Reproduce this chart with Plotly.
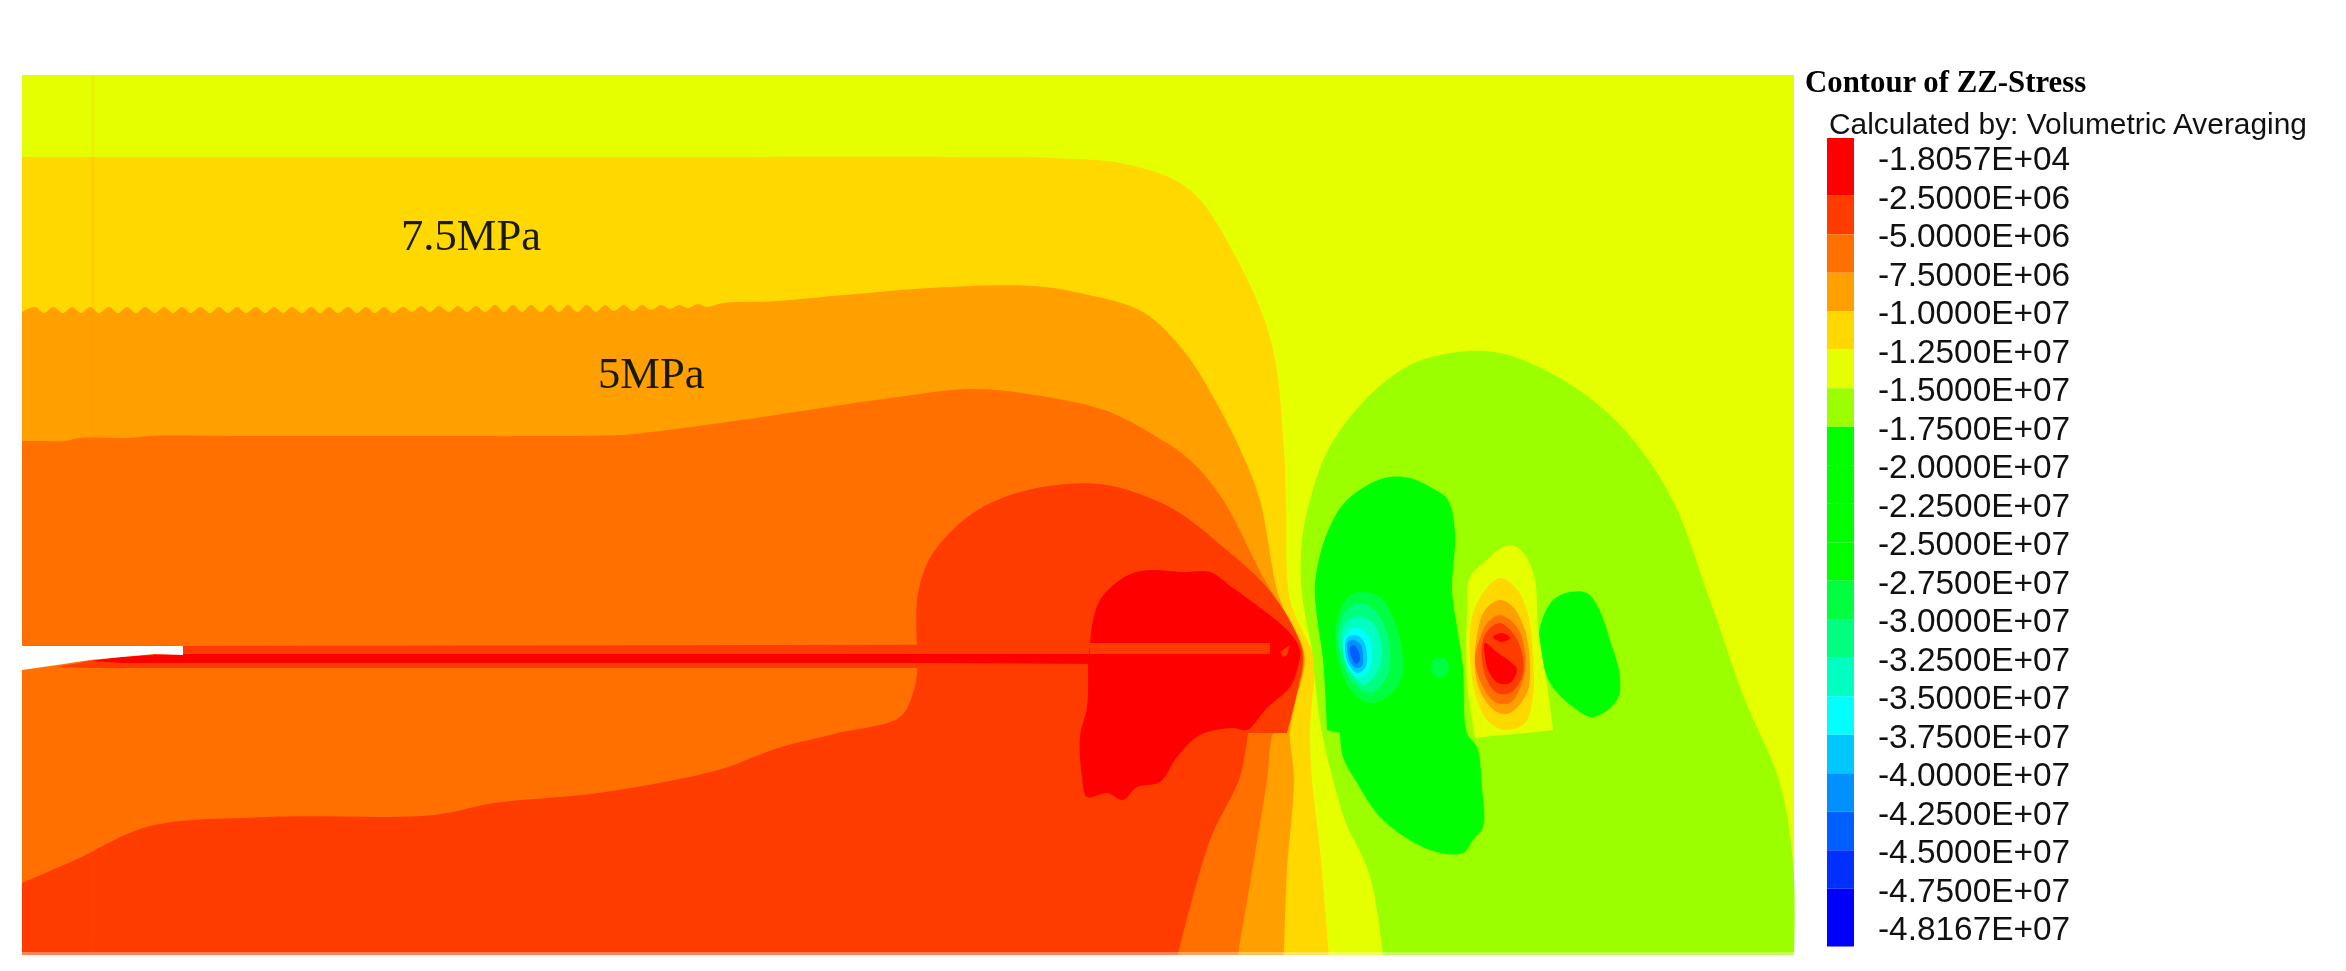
import plotly.graph_objects as go

# ---- colour of each contour band ----
C_RED = "#FF0000"; C_R2 = "#FF3C00"; C_OR = "#FF7000"; C_AM = "#FFA000"; C_GO = "#FFD800"
C_YG = "#E6FF00"; C_LG = "#9CFF00"; C_GR = "#00FF00"; C_G2 = "#00FF40"; C_G3 = "#00FF80"
C_G4 = "#00FFC0"; C_CY = "#00FFFF"; C_B1 = "#00C8FF"; C_B2 = "#0090FF"; C_B3 = "#0060FF"
C_B4 = "#0030FF"; C_B5 = "#0000FF"

legend_labels = ["-1.8057E+04", "-2.5000E+06", "-5.0000E+06", "-7.5000E+06", "-1.0000E+07", "-1.2500E+07",
                 "-1.5000E+07", "-1.7500E+07", "-2.0000E+07", "-2.2500E+07", "-2.5000E+07", "-2.7500E+07",
                 "-3.0000E+07", "-3.2500E+07", "-3.5000E+07", "-3.7500E+07", "-4.0000E+07", "-4.2500E+07",
                 "-4.5000E+07", "-4.7500E+07", "-4.8167E+07"]
legend_colors = [C_RED, C_R2, C_OR, C_AM, C_GO, C_YG, C_LG, C_GR, C_GR, C_GR, C_GR, C_G2, C_G3, C_G4, C_CY,
                 C_B1, C_B2, C_B3, C_B4, C_B5]

title_text = "Contour of ZZ-Stress"
subtitle_text = "Calculated by: Volumetric Averaging"
region_labels = ["7.5MPa", "5MPa"]

# ---- contour regions (boundaries) ----
domain = [(22, 75), (1794, 75), (1794, 955), (22, 955)]

band_gold = [(22, 157), (22, 157), (40, 157), (300, 157), (700, 157), (950, 157), (1050, 158), (1130, 165), (1190, 190),
             (1240, 265), (1272, 345), (1284, 450), (1286, 500),
             (1290, 600), (1307, 640), (1315, 660), (1312, 700), (1310, 733), (1312, 780), (1320, 850), (1329, 955),
             (1329, 955), (22, 955)]

band_amber = [(22, 312), (35, 307), (44, 313), (53, 307), (63, 313), (72, 307), (81, 313), (90, 307), (99, 313),
              (109, 307), (118, 313), (127, 307), (136, 313), (145, 307), (155, 313), (164, 307), (173, 313),
              (182, 307), (191, 313), (200, 307), (210, 313), (219, 307), (228, 313), (237, 307), (246, 313),
              (256, 307), (265, 313), (274, 307), (283, 313), (292, 307), (302, 313), (311, 307), (320, 313),
              (329, 307), (338, 313), (348, 307), (357, 313), (366, 307), (375, 313), (384, 307), (393, 313),
              (403, 307), (412, 312), (421, 306), (430, 312), (439, 306), (449, 312), (458, 306), (467, 312),
              (476, 306), (485, 312), (495, 305), (504, 312), (513, 305), (522, 312), (531, 305), (541, 312),
              (550, 305), (559, 312), (568, 305), (577, 312), (587, 305), (596, 312), (605, 305), (614, 311),
              (624, 305), (633, 311), (642, 305), (651, 310), (661, 305), (670, 309), (679, 305), (688, 308),
              (698, 304), (707, 307), (723, 303), (777, 301), (844, 295), (946, 287), (1033, 286), (1080, 293),
              (1143, 312), (1183, 350), (1215, 400), (1245, 460), (1260, 500), (1280, 600), (1300, 640), (1305, 660),
              (1296, 700), (1290, 733), (1294, 780), (1287, 870), (1284, 955), (1284, 955), (22, 955)]

band_orange = [(22, 441), (40, 441), (65, 441), (80, 438), (130, 438), (150, 436), (250, 436), (400, 436), (550, 436),
               (620, 435), (660, 431), (748, 419), (898, 397),
               (973, 389), (1047, 397), (1107, 411), (1152, 434), (1190, 460), (1223, 500), (1262, 575), (1290, 625),
               (1303, 650), (1298, 690), (1273, 733), (1267, 780), (1238, 955), (1238, 955), (22, 955)]

band_redorange = [(917, 646), (918, 593), (933, 553), (973, 513), (1017, 493), (1067, 484), (1107, 485), (1150, 498),
                  (1183, 515), (1223, 547), (1253, 573), (1277, 600), (1298, 637), (1303, 657), (1297, 693), (1287, 733),
                  (1287, 733), (1248, 733), (1248, 733), (1240, 777), (1210, 840), (1178, 955), (1178, 955), (22, 955),
                  (22, 955), (22, 883), (22, 883), (75, 860), (150, 826),
                  (269, 817), (434, 815), (494, 803), (598, 793), (718, 770), (778, 748), (838, 733), (900, 717),
                  (913, 693), (917, 673), (917, 667)]

crack_strip = [(57, 667), (90, 661), (122, 657), (155, 654), (183, 646), (1270, 644), (1270, 654), (1005, 654),
               (1005, 668), (90, 668)]

band_red = [(1090, 643), (1093, 620), (1100, 600), (1117, 582), (1133, 573), (1153, 570), (1183, 572), (1210, 572),
            (1233, 588), (1267, 613), (1290, 633), (1300, 650), (1298, 667), (1290, 687), (1267, 708), (1247, 730),
            (1233, 728), (1200, 735), (1177, 757), (1160, 782), (1137, 787), (1123, 800), (1107, 793), (1087, 797),
            (1082, 777), (1080, 737), (1087, 707), (1088, 667)]

crack_upper_patch = [(1090, 643), (1270, 643), (1270, 654), (1090, 654)]
crack_tip_patch = [(1280, 652), (1290, 645), (1287, 655), (1283, 657)]
crack_core = [(90, 661), (122, 657), (155, 655), (183, 654), (1100, 654), (1100, 664), (917, 663), (183, 663), (122, 663)]

lobe_lightgreen = [(1383, 955), (1369, 873), (1346, 823), (1333, 780), (1322, 733), (1316, 690),
                   (1312, 650), (1306, 620), (1301, 583), (1302, 540), (1310, 500), (1328, 450), (1365, 400), (1410, 365),
                   (1458, 352), (1500, 353), (1560, 378), (1620, 425), (1670, 495), (1710, 600), (1745, 700), (1779, 780),
                   (1793, 863), (1794, 955)]

lobe_green = [(1347, 500), (1327, 533), (1315, 583), (1317, 617), (1323, 660), (1327, 730), (1327, 730), (1340, 733),
              (1340, 733), (1343, 757), (1357, 783), (1383, 820), (1430, 850), (1463, 853), (1473, 840), (1483, 827),
              (1482, 787), (1477, 747), (1467, 733), (1463, 667), (1457, 627), (1452, 590), (1455, 533), (1448, 500),
              (1432, 488), (1410, 478), (1384, 478)]

lobe_green_right = [(1540, 627), (1553, 600), (1570, 592), (1587, 593), (1598, 607), (1610, 640), (1620, 677), (1617, 700),
                    (1593, 717), (1573, 707), (1550, 683), (1540, 647)]

spot_small = [(1440, 657), (1447, 661), (1449, 668), (1446, 675), (1439, 678), (1433, 674), (1431, 666), (1434, 659)]

eye_g2 = [(1363, 592), (1380, 597), (1393, 617), (1402, 650), (1402, 677), (1390, 695), (1370, 703), (1353, 693),
          (1340, 667), (1335, 637), (1340, 610), (1350, 595)]
eye_g3 = [(1362, 603), (1380, 617), (1390, 650), (1387, 677), (1370, 693), (1353, 683), (1342, 660), (1338, 633), (1347, 610)]
eye_g4 = [(1358, 617), (1373, 623), (1382, 650), (1377, 673), (1363, 685), (1352, 673), (1343, 653), (1342, 633), (1347, 622)]
eye_cy = [(1355, 628), (1367, 633), (1372, 653), (1368, 672), (1358, 678), (1348, 668), (1343, 650), (1345, 635)]
eye_b1 = [(1355, 635), (1363, 640), (1367, 655), (1365, 668), (1357, 673), (1348, 663), (1345, 648), (1347, 638)]
eye_b2 = [(1354, 640), (1361, 645), (1363, 658), (1362, 666), (1356, 668), (1350, 662), (1347, 648), (1348, 642)]
eye_b3 = [(1354, 645), (1358, 650), (1360, 660), (1356, 664), (1352, 658), (1350, 648)]

hot_yg = [(1553, 730), (1527, 733), (1502, 735), (1475, 738), (1475, 738), (1467, 680), (1467, 613), (1470, 577),
          (1487, 560), (1498, 550), (1512, 545), (1525, 555), (1535, 580), (1538, 627), (1548, 690)]
hot_go = [(1500, 578), (1515, 587), (1527, 610), (1533, 653), (1533, 697), (1525, 723), (1505, 730), (1487, 720), (1475, 693),
          (1470, 657), (1472, 617), (1485, 590)]
hot_am = [(1500, 600), (1513, 607), (1525, 630), (1530, 663), (1527, 693), (1510, 713), (1497, 712), (1483, 697), (1475, 670),
          (1478, 630), (1485, 610)]
hot_or = [(1500, 615), (1517, 627), (1525, 653), (1523, 680), (1510, 703), (1495, 702), (1483, 687), (1475, 660), (1482, 633),
          (1488, 622)]
hot_r2 = [(1500, 623), (1513, 633), (1522, 653), (1522, 677), (1510, 693), (1497, 693), (1487, 680), (1482, 660), (1483, 640),
          (1490, 628)]
hot_red_top = [(1493, 637), (1502, 633), (1510, 638), (1502, 642)]
hot_red_main = [(1485, 643), (1498, 653), (1512, 663), (1517, 670), (1510, 683), (1498, 683), (1488, 670), (1485, 657)]

notch_white = [(22, 646), (183, 646), (183, 655), (155, 654), (122, 657), (90, 660), (57, 665), (22, 670)]
seam_line = [(91, 75), (95, 75), (95, 955), (91, 955)]
edge_glow = [(22, 952), (1794, 952), (1794, 956), (22, 956)]

# outline: straight edges, open = smooth but closed by a straight edge, round = smooth all the way round
layers = [
    (domain, C_YG, "straight"), (band_gold, C_GO, "open"), (band_amber, C_AM, "open"), (band_orange, C_OR, "open"),
    (band_redorange, C_R2, "open"), (crack_strip, C_R2, "straight"), (band_red, C_RED, "open"),
    (crack_upper_patch, C_R2, "straight"), (crack_tip_patch, C_R2, "straight"), (crack_core, C_RED, "straight"),
    (lobe_lightgreen, C_LG, "open"), (lobe_green, C_GR, "round"), (lobe_green_right, C_GR, "round"),
    (spot_small, C_G2, "round"),
    (eye_g2, C_G2, "round"), (eye_g3, C_G3, "round"), (eye_g4, C_G4, "round"), (eye_cy, C_CY, "round"),
    (eye_b1, C_B1, "round"), (eye_b2, C_B2, "round"), (eye_b3, C_B3, "round"),
    (hot_yg, C_YG, "open"), (hot_go, C_GO, "round"), (hot_am, C_AM, "round"), (hot_or, C_OR, "round"),
    (hot_r2, C_R2, "round"), (hot_red_top, C_RED, "round"), (hot_red_main, C_RED, "round"),
    (seam_line, "rgba(255,110,0,0.07)", "straight"), (edge_glow, "rgba(255,255,255,0.35)", "straight"),
    (notch_white, "#FFFFFF", "straight"),
]

fig = go.Figure()


def polygon(points, colour, outline="straight"):
    pts = points + points[:1] if outline == "round" else points
    fig.add_trace(go.Scatter(x=[p[0] for p in pts], y=[p[1] for p in pts], mode="lines",
                             line=dict(width=0, shape="linear" if outline == "straight" else "spline", smoothing=1.0),
                             fill="toself", fillcolor=colour, hoverinfo="skip", showlegend=False))


for pts, col, outline in layers:
    polygon(pts, col, outline)

# colour key: end bins are a half row longer than the others
ROW = 38.5
BAR_L, BAR_R, BAR_TOP = 1827, 1854, 138
edge = BAR_TOP
for i, col in enumerate(legend_colors):
    h = ROW * 1.5 if i in (0, len(legend_colors) - 1) else ROW
    polygon([(BAR_L, edge), (BAR_R, edge), (BAR_R, edge + h), (BAR_L, edge + h)], col)
    edge += h

fig.add_trace(go.Scatter(x=[1878] * len(legend_labels), y=[162 + ROW * i for i in range(len(legend_labels))],
                         mode="text", text=legend_labels, textposition="middle right",
                         textfont=dict(family="Liberation Sans", size=33.4, color="#111111"),
                         hoverinfo="skip", showlegend=False))
fig.add_trace(go.Scatter(x=[1805], y=[84], mode="text", text=[f"<b>{title_text}</b>"], textposition="middle right",
                         textfont=dict(family="Liberation Serif", size=30.8, color="#000000"),
                         hoverinfo="skip", showlegend=False))
fig.add_trace(go.Scatter(x=[1829], y=[127], mode="text", text=[subtitle_text], textposition="middle right",
                         textfont=dict(family="Liberation Sans", size=29.9, color="#111111"),
                         hoverinfo="skip", showlegend=False))
fig.add_trace(go.Scatter(x=[401, 598], y=[239, 377], mode="text", text=region_labels, textposition="middle right",
                         textfont=dict(family="Liberation Serif", size=44.6, color="#1a1a00"),
                         hoverinfo="skip", showlegend=False))

fig.update_layout(width=2346, height=971, margin=dict(l=0, r=0, t=0, b=0), paper_bgcolor="white",
                  plot_bgcolor="white", showlegend=False)
fig.update_xaxes(range=[0, 2346], visible=False, fixedrange=True)
fig.update_yaxes(range=[971, 0], visible=False, fixedrange=True)

fig.write_html("out.html", config={"displayModeBar": False},
               post_script="document.body.style.margin='0';"
                           "document.querySelectorAll('.main-svg').forEach(function(s){s.style.filter='blur(0.7px)';});")
